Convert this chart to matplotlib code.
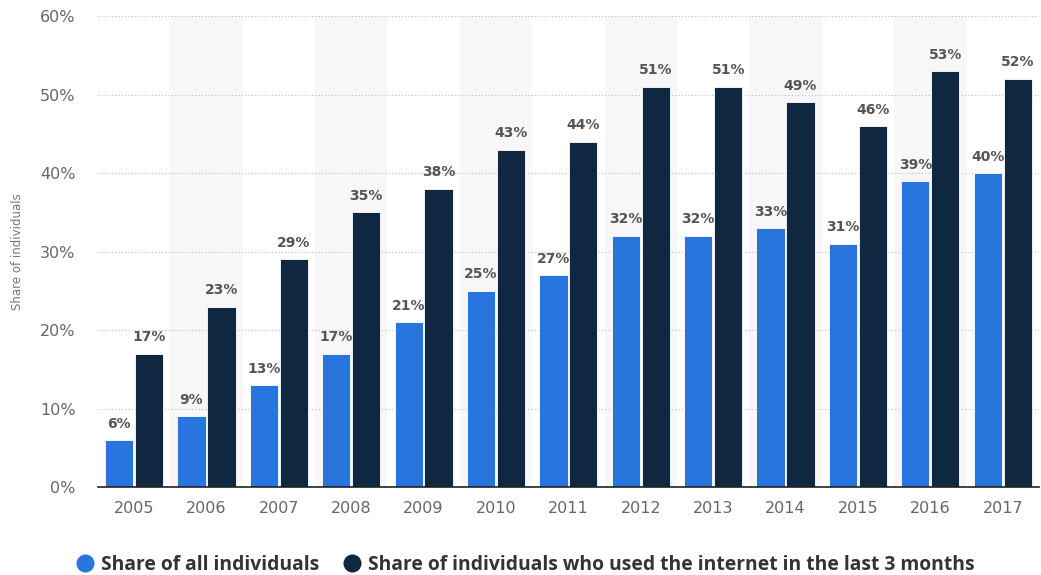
import matplotlib.pyplot as plt
from matplotlib.lines import Line2D
import numpy as np

years = ["2005", "2006", "2007", "2008", "2009", "2010", "2011",
         "2012", "2013", "2014", "2015", "2016", "2017"]
all_individuals = [6, 9, 13, 17, 21, 25, 27, 32, 32, 33, 31, 39, 40]
internet_users = [17, 23, 29, 35, 38, 43, 44, 51, 51, 49, 46, 53, 52]
y_ticks = [0, 10, 20, 30, 40, 50, 60]

blue = "#2876dd"
navy = "#0f2741"
label_color = "#555555"

plt.rcParams["font.family"] = ["DejaVu Sans"]

fig = plt.figure(figsize=(10.41, 5.75), dpi=100)
ax = fig.add_axes([0.094, 0.153, 0.904, 0.819])

x = np.arange(len(years))
width = 0.39
offset = 0.207

# alternating background bands
for i in x:
    if i % 2 == 1:
        ax.axvspan(i - 0.5, i + 0.5, color="#f7f7f7", zorder=0, lw=0)

b1 = ax.bar(x - offset, all_individuals, width, color=blue, zorder=3,
            edgecolor="white", linewidth=0.6)
b2 = ax.bar(x + offset, internet_users, width, color=navy, zorder=3,
            edgecolor="white", linewidth=0.6)

for bars, values in ((b1, all_individuals), (b2, internet_users)):
    for rect, v in zip(bars, values):
        ax.text(rect.get_x() + rect.get_width() / 2, v + 1.2, f"{v}%",
                ha="center", va="bottom", fontsize=10, fontweight="bold",
                color=label_color, zorder=4)

ax.set_xlim(-0.5, len(years) - 0.5)
ax.set_ylim(0, 60)
ax.set_yticks(y_ticks)
ax.set_yticklabels([f"{t}%" for t in y_ticks])
ax.set_xticks(x)
ax.set_xticklabels(years)

ax.yaxis.grid(True, linestyle=(0, (1, 2)), color="#bbbbbb", linewidth=0.8, zorder=1)
ax.set_axisbelow(True)

for side in ["top", "right", "left"]:
    ax.spines[side].set_visible(False)
ax.spines["bottom"].set_color("#222222")
ax.spines["bottom"].set_linewidth(1.2)
ax.spines["bottom"].set_zorder(5)

ax.tick_params(axis="both", length=0, labelsize=11.5, colors="#666666")
ax.tick_params(axis="y", pad=16)
ax.tick_params(axis="x", pad=10)

ax.set_ylabel("Share of individuals", fontsize=8.5, color="#777777")
ax.yaxis.set_label_coords(-0.078, 0.5)

handles = [
    Line2D([0], [0], marker="o", color="w", markerfacecolor=blue, markersize=14, lw=0),
    Line2D([0], [0], marker="o", color="w", markerfacecolor=navy, markersize=14, lw=0),
]
labels = ["Share of all individuals",
          "Share of individuals who used the internet in the last 3 months"]
leg = fig.legend(handles, labels, loc="center left", bbox_to_anchor=(0.072, 0.018),
                 ncol=2, frameon=False, handletextpad=0.35, columnspacing=1.2,
                 handlelength=1.0, borderpad=0, borderaxespad=0,
                 prop={"family": "Open Sans", "size": 13.9, "weight": "bold"})
for t in leg.get_texts():
    t.set_color("#333333")

fig.savefig("out.png", dpi=100)
